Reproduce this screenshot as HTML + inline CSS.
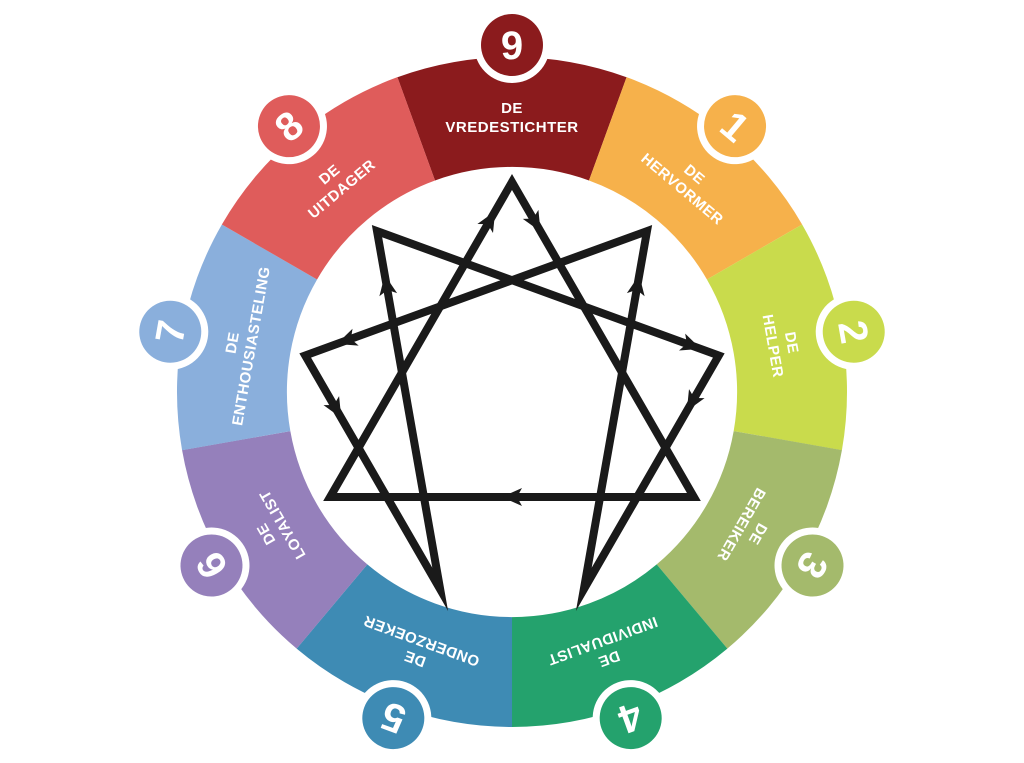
<!DOCTYPE html>
<html><head><meta charset="utf-8"><style>
html,body{margin:0;padding:0;background:#fff;}
svg{display:block}
.l{font-family:"Liberation Sans",sans-serif;font-weight:bold;font-size:15px;fill:#fff;text-anchor:middle;letter-spacing:0.5px}
.n{font-family:"Liberation Sans",sans-serif;font-weight:bold;font-size:40px;fill:#fff;text-anchor:middle}
</style></head><body>
<svg width="1024" height="763" viewBox="0 0 1024 763" xmlns="http://www.w3.org/2000/svg">
<defs>
<path id="seg" d="M397.4,77.2 A335,335 0 0 1 626.6,77.2 L589,180.5 A225,225 0 0 0 435,180.5 Z"/>
<marker id="ar" markerUnits="userSpaceOnUse" markerWidth="30" markerHeight="30" refX="0" refY="0" viewBox="-15 -15 30 30" orient="auto" overflow="visible">
<path d="M10,0 L-10,-9 L-5,0 L-10,9 Z" fill="#1a1a1a"/>
</marker>
</defs>
<g transform="rotate(0 512 392)"><use href="#seg" fill="#8B1B1D"/><circle cx="512" cy="45" r="38" fill="#fff"/><circle cx="512" cy="45" r="31" fill="#8B1B1D"/><text class="n" x="512" y="59">9</text><text class="l" x="512" y="113">DE</text><text class="l" x="512" y="132">VREDESTICHTER</text></g>
<g transform="rotate(40 512 392)"><use href="#seg" fill="#F6B14B"/><circle cx="512" cy="45" r="38" fill="#fff"/><circle cx="512" cy="45" r="31" fill="#F6B14B"/><text class="n" x="512" y="59">1</text><text class="l" x="512" y="113">DE</text><text class="l" x="512" y="132">HERVORMER</text></g>
<g transform="rotate(80 512 392)"><use href="#seg" fill="#C9DB4C"/><circle cx="512" cy="45" r="38" fill="#fff"/><circle cx="512" cy="45" r="31" fill="#C9DB4C"/><text class="n" x="512" y="59">2</text><text class="l" x="512" y="113">DE</text><text class="l" x="512" y="132">HELPER</text></g>
<g transform="rotate(120 512 392)"><use href="#seg" fill="#A4BA6C"/><circle cx="512" cy="45" r="38" fill="#fff"/><circle cx="512" cy="45" r="31" fill="#A4BA6C"/><text class="n" x="512" y="59">3</text><text class="l" x="512" y="113">DE</text><text class="l" x="512" y="132">BEREIKER</text></g>
<g transform="rotate(160 512 392)"><use href="#seg" fill="#24A26D"/><circle cx="512" cy="45" r="38" fill="#fff"/><circle cx="512" cy="45" r="31" fill="#24A26D"/><text class="n" x="512" y="59">4</text><text class="l" x="512" y="113">DE</text><text class="l" x="512" y="132">INDIVIDUALIST</text></g>
<g transform="rotate(200 512 392)"><use href="#seg" fill="#3E8BB4"/><circle cx="512" cy="45" r="38" fill="#fff"/><circle cx="512" cy="45" r="31" fill="#3E8BB4"/><text class="n" x="512" y="59">5</text><text class="l" x="512" y="113">DE</text><text class="l" x="512" y="132">ONDERZOEKER</text></g>
<g transform="rotate(240 512 392)"><use href="#seg" fill="#9580BB"/><circle cx="512" cy="45" r="38" fill="#fff"/><circle cx="512" cy="45" r="31" fill="#9580BB"/><text class="n" x="512" y="59">6</text><text class="l" x="512" y="113">DE</text><text class="l" x="512" y="132">LOYALIST</text></g>
<g transform="rotate(280 512 392)"><use href="#seg" fill="#8AAFDC"/><circle cx="512" cy="45" r="38" fill="#fff"/><circle cx="512" cy="45" r="31" fill="#8AAFDC"/><text class="n" x="512" y="59">7</text><text class="l" x="512" y="113">DE</text><text class="l" x="512" y="132">ENTHOUSIASTELING</text></g>
<g transform="rotate(320 512 392)"><use href="#seg" fill="#DF5C5B"/><circle cx="512" cy="45" r="38" fill="#fff"/><circle cx="512" cy="45" r="31" fill="#DF5C5B"/><text class="n" x="512" y="59">8</text><text class="l" x="512" y="113">DE</text><text class="l" x="512" y="132">UITDAGER</text></g>
<g fill="none" stroke="#1a1a1a" stroke-width="8" stroke-linejoin="miter" stroke-miterlimit="10">
<polygon points="512,182 693.9,497 330.1,497"/>
<polygon points="647,231.1 583.8,589.4 718.8,355.5 377,231.1 440.2,589.4 305.2,355.5"/>
</g>
<g fill="none" stroke="none">
<path marker-mid="url(#ar)" d="M512,182 L535.6,223 L693.9,497"/>
<path marker-mid="url(#ar)" d="M693.9,497 L512,497 L330.1,497"/>
<path marker-mid="url(#ar)" d="M330.1,497 L490.2,219.8 L512,182"/>
<path marker-mid="url(#ar)" d="M647,231.1 L346.2,340.6 L305.2,355.5"/>
<path marker-mid="url(#ar)" d="M305.2,355.5 L336.3,409.3 L440.2,589.4"/>
<path marker-mid="url(#ar)" d="M440.2,589.4 L386.5,284.9 L377,231.1"/>
<path marker-mid="url(#ar)" d="M377,231.1 L691.5,345.5 L718.8,355.5"/>
<path marker-mid="url(#ar)" d="M718.8,355.5 L691.8,402.3 L583.8,589.4"/>
<path marker-mid="url(#ar)" d="M583.8,589.4 L637.5,284.8 L647,231.1"/>
</g>
</svg>
</body></html>
